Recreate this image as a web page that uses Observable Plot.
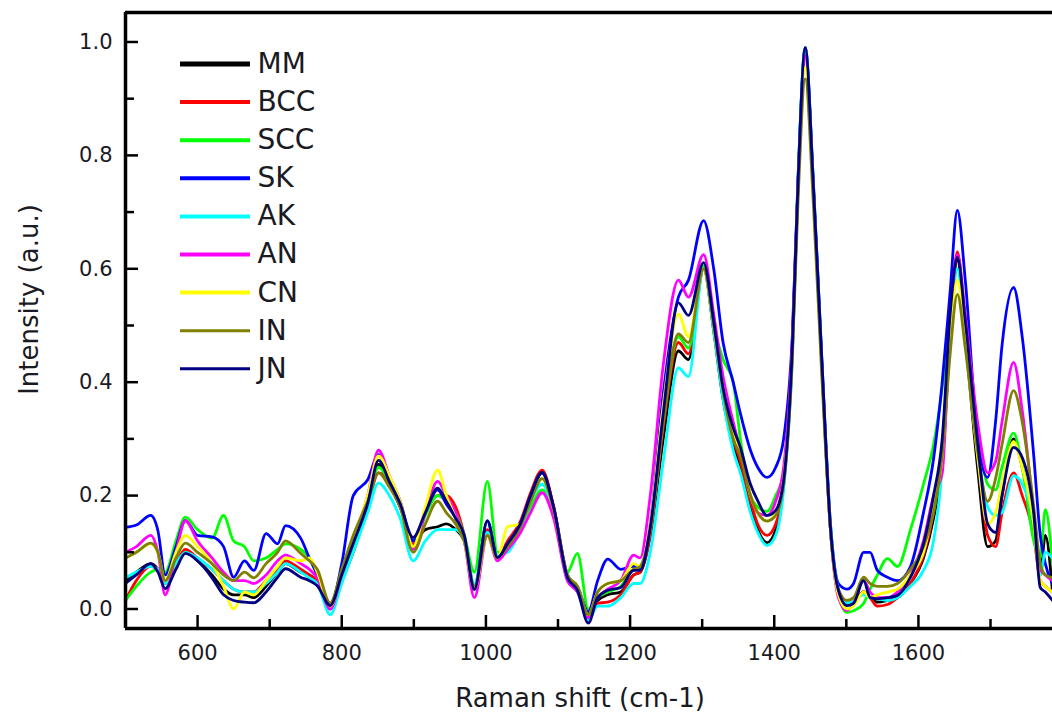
<!DOCTYPE html>
<html><head><meta charset="utf-8">
<script src="https://cdn.jsdelivr.net/npm/d3@7"></script>
<script src="https://cdn.jsdelivr.net/npm/@observablehq/plot@0.6"></script>
<style>html,body{margin:0;padding:0;background:#fff;} svg{display:block}</style>
</head><body><div id="chart"></div>
<script>
const shift = [500,515,535,545,555,570,583,600,620,636,
650,665,678,695,711,722,743,755,766,784,
800,816,836,851,866,881,899,916,933,945,
958,970,984,1002,1016,1030,1048,1062,1078,1094,
1113,1127,1142,1155,1169,1187,1205,1214,1228,1246,
1267,1281,1302,1316,1329,1343,1353,1367,1377,1390,
1402,1413,1425,1433,1443,1454,1466,1478,1489,1501,
1510,1524,1533,1543,1557,1571,1589,1607,1621,1633,
1644,1654,1665,1682,1696,1707,1716,1732,1744,1760,
1769,1776,1786];

const MM = [0.05,0.065,0.08,0.07,0.045,0.075,0.1,0.085,0.06,0.035,
0.025,0.025,0.02,0.04,0.065,0.08,0.065,0.06,0.05,0.01,
0.065,0.12,0.19,0.255,0.22,0.18,0.12,0.14,0.145,0.15,
0.14,0.12,0.04,0.135,0.09,0.11,0.15,0.2,0.24,0.18,
0.06,0.035,-0.015,0.015,0.025,0.03,0.06,0.065,0.13,0.3,
0.455,0.44,0.6,0.49,0.37,0.29,0.25,0.18,0.14,0.117,
0.14,0.22,0.45,0.75,0.985,0.75,0.43,0.14,0.03,0.01,
0.012,0.03,0.02,0.012,0.015,0.02,0.045,0.09,0.16,0.26,
0.48,0.615,0.48,0.25,0.11,0.12,0.2,0.3,0.25,0.15,
0.06,0.13,0.03];

const BCC = [0.015,0.05,0.075,0.07,0.045,0.08,0.105,0.09,0.07,0.05,
0.035,0.03,0.03,0.05,0.07,0.085,0.07,0.06,0.05,0.0,
0.05,0.1,0.18,0.24,0.225,0.19,0.115,0.17,0.2,0.2,
0.18,0.13,0.04,0.14,0.09,0.12,0.155,0.205,0.245,0.18,
0.055,0.035,-0.015,0.01,0.012,0.025,0.06,0.065,0.13,0.32,
0.47,0.45,0.6,0.5,0.38,0.3,0.26,0.19,0.15,0.13,
0.15,0.22,0.45,0.75,0.98,0.75,0.43,0.14,0.03,0.008,
0.012,0.03,0.02,0.005,0.008,0.02,0.045,0.095,0.17,0.28,
0.5,0.63,0.5,0.28,0.13,0.11,0.17,0.24,0.2,0.13,
0.05,0.04,0.03];

const SCC = [0.015,0.04,0.065,0.07,0.065,0.12,0.162,0.14,0.125,0.165,
0.12,0.11,0.085,0.09,0.105,0.115,0.105,0.09,0.06,0.005,
0.055,0.11,0.18,0.25,0.225,0.19,0.11,0.165,0.2,0.19,
0.17,0.13,0.065,0.225,0.1,0.11,0.145,0.18,0.21,0.17,
0.065,0.098,0.0,0.02,0.03,0.04,0.07,0.075,0.14,0.33,
0.48,0.46,0.605,0.5,0.44,0.4,0.3,0.2,0.18,0.172,
0.2,0.24,0.46,0.75,0.98,0.75,0.43,0.14,0.025,-0.006,
-0.003,0.01,0.035,0.06,0.089,0.075,0.14,0.22,0.29,0.39,
0.51,0.6,0.5,0.32,0.22,0.21,0.25,0.31,0.25,0.12,
0.09,0.175,0.08];

const SK = [0.144,0.148,0.165,0.138,0.06,0.11,0.156,0.13,0.127,0.11,
0.056,0.085,0.068,0.133,0.115,0.147,0.125,0.09,0.06,0.005,
0.08,0.2,0.228,0.272,0.225,0.185,0.12,0.17,0.21,0.185,
0.16,0.12,0.04,0.155,0.09,0.115,0.15,0.2,0.24,0.175,
0.06,0.04,-0.005,0.05,0.088,0.07,0.075,0.07,0.15,0.38,
0.55,0.58,0.685,0.6,0.47,0.4,0.345,0.28,0.25,0.232,
0.25,0.3,0.48,0.76,0.99,0.76,0.44,0.15,0.045,0.035,
0.045,0.1,0.1,0.068,0.056,0.05,0.075,0.17,0.265,0.4,
0.56,0.703,0.58,0.3,0.232,0.33,0.465,0.567,0.48,0.27,
0.13,0.08,0.045];

const AK = [0.055,0.065,0.075,0.07,0.045,0.08,0.1,0.09,0.07,0.05,
0.035,0.03,0.03,0.045,0.065,0.08,0.065,0.055,0.045,-0.01,
0.045,0.1,0.17,0.222,0.2,0.16,0.085,0.12,0.14,0.14,
0.14,0.12,0.045,0.135,0.095,0.1,0.14,0.19,0.22,0.17,
0.05,0.03,-0.02,0.005,0.005,0.02,0.045,0.045,0.1,0.26,
0.425,0.41,0.6,0.49,0.37,0.28,0.24,0.17,0.135,0.112,
0.13,0.21,0.44,0.76,0.99,0.76,0.44,0.15,0.035,0.01,
0.015,0.025,0.02,0.018,0.015,0.02,0.04,0.068,0.12,0.25,
0.48,0.6,0.49,0.28,0.18,0.165,0.17,0.235,0.22,0.15,
0.06,0.1,0.09];

const AN = [0.1,0.11,0.13,0.1,0.025,0.1,0.156,0.12,0.09,0.065,
0.05,0.05,0.045,0.06,0.085,0.095,0.08,0.07,0.055,0.0,
0.06,0.12,0.2,0.28,0.235,0.19,0.105,0.17,0.225,0.2,
0.17,0.12,0.02,0.13,0.085,0.105,0.135,0.17,0.205,0.16,
0.05,0.03,-0.015,0.02,0.035,0.05,0.095,0.09,0.2,0.43,
0.58,0.55,0.625,0.52,0.41,0.33,0.28,0.2,0.17,0.165,
0.19,0.25,0.47,0.75,0.975,0.75,0.43,0.14,0.02,-0.003,
0.01,0.05,0.03,0.02,0.02,0.03,0.06,0.12,0.2,0.24,
0.5,0.625,0.52,0.33,0.24,0.26,0.33,0.435,0.35,0.17,
0.07,0.06,0.05];

const CN = [0.09,0.1,0.115,0.1,0.05,0.1,0.13,0.11,0.08,0.04,
0.0,0.03,0.025,0.05,0.075,0.09,0.085,0.09,0.065,0.005,
0.06,0.12,0.2,0.27,0.235,0.19,0.11,0.18,0.245,0.2,
0.16,0.12,0.035,0.13,0.09,0.145,0.15,0.195,0.23,0.175,
0.06,0.04,-0.01,0.03,0.045,0.05,0.08,0.075,0.15,0.36,
0.52,0.48,0.6,0.5,0.39,0.315,0.28,0.2,0.17,0.155,
0.17,0.23,0.45,0.74,0.955,0.74,0.42,0.14,0.025,0.0,
0.005,0.03,0.02,0.025,0.03,0.035,0.06,0.1,0.18,0.27,
0.48,0.58,0.47,0.27,0.15,0.17,0.22,0.295,0.25,0.15,
0.05,0.04,0.03];

const IN = [0.09,0.1,0.116,0.1,0.05,0.09,0.116,0.1,0.08,0.06,
0.05,0.065,0.055,0.08,0.1,0.12,0.098,0.085,0.07,0.01,
0.07,0.13,0.19,0.24,0.215,0.18,0.1,0.15,0.19,0.17,
0.15,0.12,0.04,0.13,0.09,0.11,0.145,0.19,0.23,0.175,
0.06,0.04,-0.01,0.03,0.045,0.05,0.07,0.075,0.14,0.33,
0.485,0.47,0.6,0.5,0.385,0.3,0.27,0.2,0.17,0.155,
0.165,0.22,0.44,0.72,0.935,0.72,0.41,0.14,0.035,0.015,
0.02,0.056,0.045,0.04,0.04,0.045,0.07,0.11,0.17,0.27,
0.45,0.555,0.46,0.28,0.19,0.23,0.29,0.385,0.33,0.18,
0.08,0.06,0.055];

const JN = [0.045,0.06,0.08,0.065,0.036,0.07,0.098,0.085,0.055,0.025,
0.015,0.012,0.011,0.03,0.056,0.071,0.056,0.05,0.041,0.006,
0.06,0.116,0.186,0.262,0.225,0.186,0.126,0.17,0.213,0.19,
0.16,0.13,0.034,0.156,0.091,0.115,0.151,0.2,0.241,0.179,
0.056,0.033,-0.025,0.02,0.033,0.038,0.068,0.068,0.144,0.345,
0.54,0.518,0.611,0.508,0.39,0.32,0.285,0.22,0.191,0.165,
0.174,0.227,0.46,0.755,0.99,0.755,0.44,0.144,0.033,0.006,
0.01,0.05,0.02,0.018,0.02,0.024,0.056,0.115,0.2,0.3,
0.52,0.62,0.508,0.297,0.15,0.135,0.2,0.285,0.267,0.168,
0.038,0.03,0.015];

const seriesNames = ["MM","BCC","SCC","SK","AK","AN","CN","IN","JN"];
const seriesColors = ["#000000","#ff0000","#00ff00","#0000ff","#00ffff","#ff00ff","#ffff00","#808000","#000080"];
const seriesValues = [MM,BCC,SCC,SK,AK,AN,CN,IN,JN];
const legendWidths = [5,4,4,4,4,4,4,3,3];

const xMajor = [600,800,1000,1200,1400,1600];
const xMinor = [700,900,1100,1300,1500,1700];
const yMajor = [0,0.2,0.4,0.6,0.8,1.0];
const yMinor = [0.1,0.3,0.5,0.7,0.9];

const W = 1052, H = 721;
const mL = 125, mR = 0, mT = 12, mB = 93;
const xDomain = [500, 1786];
const yDomain = [-0.0344, 1.052];
const xs = d3.scaleLinear().domain(xDomain).range([mL, W - mR]);
const ys = d3.scaleLinear().domain(yDomain).range([H - mB, mT]);

const rows = seriesNames.flatMap((name, i) =>
  shift.map((x, j) => ({series: name, shift: x, intensity: seriesValues[i][j]})));

const legendRows = seriesNames.map((s, i) => ({
  series: s,
  y: ys.invert(63.5 + i * 38.1),
  w: legendWidths[i]
}));

const font = "'DejaVu Sans', Verdana, sans-serif";
const ink = "#1a1a22";

const chart = Plot.plot({
  width: W, height: H,
  marginLeft: mL, marginRight: mR, marginTop: mT, marginBottom: mB,
  style: {fontFamily: font, background: "#fff"},
  x: {domain: xDomain, axis: null},
  y: {domain: yDomain, axis: null},
  color: {domain: seriesNames, range: seriesColors},
  marks: [
    Plot.line(rows, {x: "shift", y: "intensity", z: "series", stroke: "series",
      strokeWidth: 2.8, curve: "monotone-x", clip: true}),
    // frame (left, top, bottom)
    Plot.ruleX([xDomain[0]], {stroke: "#000", strokeWidth: 3.5}),
    Plot.ruleY([yDomain[0], yDomain[1]], {stroke: "#000", strokeWidth: 3.5}),
    // inward ticks
    Plot.ruleX(xMajor, {y1: yDomain[0], y2: ys.invert(H - mB - 13), stroke: "#000", strokeWidth: 2.5}),
    Plot.ruleX(xMinor, {y1: yDomain[0], y2: ys.invert(H - mB - 9), stroke: "#000", strokeWidth: 2.5}),
    Plot.ruleY(yMajor, {x1: xDomain[0], x2: xs.invert(mL + 13), stroke: "#000", strokeWidth: 2.5}),
    Plot.ruleY(yMinor, {x1: xDomain[0], x2: xs.invert(mL + 9), stroke: "#000", strokeWidth: 2.5}),
    // tick labels
    Plot.axisX(xMajor, {tickSize: 0, tickPadding: 17, fontSize: 21, fill: ink, label: null, tickFormat: d => String(d)}),
    Plot.axisY(yMajor, {tickSize: 0, tickPadding: 13, fontSize: 21, fill: ink, label: null, tickFormat: d3.format(".1f")}),
    // axis titles
    Plot.text(["Raman shift (cm-1)"], {frameAnchor: "bottom", dy: 78, dx: -9, fontSize: 26, fill: ink, textAnchor: "middle"}),
    Plot.text(["Intensity (a.u.)"], {frameAnchor: "left", dx: -96, dy: -21, rotate: -90, fontSize: 26, fill: ink, textAnchor: "middle"}),
    // legend
    Plot.ruleY(legendRows, {y: "y", x1: xs.invert(180), x2: xs.invert(250), stroke: "series", strokeWidth: "w"}),
    Plot.text(legendRows, {y: "y", x: xs.invert(257), text: "series", textAnchor: "start", fontSize: 28, fill: ink})
  ]
});
document.getElementById("chart").appendChild(chart);
</script>
</body></html>
